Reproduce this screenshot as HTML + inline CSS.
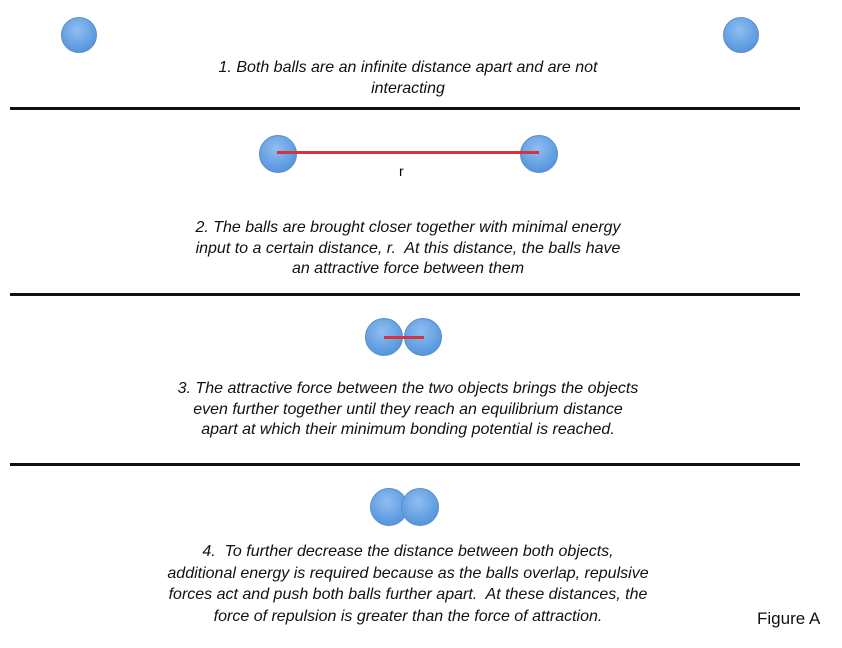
<html><head><style>
body{margin:0;background:#fff;width:842px;height:648px;position:relative;overflow:hidden;font-family:"Liberation Sans",sans-serif}
.b{position:absolute;width:36px;height:36px;border-radius:50%;background:radial-gradient(circle at 45% 35%,#8fbef0,#5a98df 70%,#4d88cf);border:1px solid #5b8fc8;box-sizing:border-box}
.hr{position:absolute;left:10px;width:790px;height:3px;background:#111}
.t{position:absolute;left:108px;width:600px;text-align:center;font-style:italic;font-size:16px;line-height:20.7px;color:#111}
.r{position:absolute;height:3px;background:#d6343c}
</style></head><body>
<div class="b" style="left:61px;top:17px"></div>
<div class="b" style="left:723px;top:17px"></div>
<div class="t" style="top:58px">1. Both balls are an infinite distance apart and are not<br>interacting</div>
<div class="hr" style="top:107px"></div>
<div class="b" style="left:259px;top:135px;width:38px;height:38px"></div>
<div class="b" style="left:520px;top:135px;width:38px;height:38px"></div>
<div class="r" style="left:277px;top:151px;width:262px"></div>
<div style="position:absolute;left:399px;top:163px;font-size:14px">r</div>
<div class="t" style="top:218px">2. The balls are brought closer together with minimal energy<br>input to a certain distance, r.&nbsp; At this distance, the balls have<br>an attractive force between them</div>
<div class="hr" style="top:293px"></div>
<div class="b" style="left:365px;top:318px;width:38px;height:38px"></div>
<div class="b" style="left:404px;top:318px;width:38px;height:38px"></div>
<div class="r" style="left:384px;top:336px;width:40px"></div>
<div class="t" style="top:379px">3. The attractive force between the two objects brings the objects<br>even further together until they reach an equilibrium distance<br>apart at which their minimum bonding potential is reached.</div>
<div class="hr" style="top:463px"></div>
<div class="b" style="left:370px;top:488px;width:38px;height:38px"></div>
<div class="b" style="left:401px;top:488px;width:38px;height:38px"></div>
<div class="t" style="top:541px;line-height:21.5px">4.&nbsp; To further decrease the distance between both objects,<br>additional energy is required because as the balls overlap, repulsive<br>forces act and push both balls further apart.&nbsp; At these distances, the<br>force of repulsion is greater than the force of attraction.</div>
<div style="position:absolute;left:757px;top:609px;font-size:17px;color:#111">Figure A</div>
</body></html>
